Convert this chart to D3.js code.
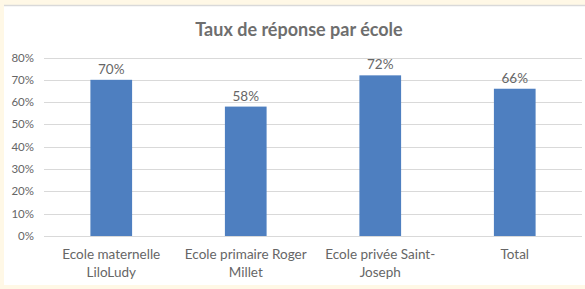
<!DOCTYPE html>
<html><head><meta charset="utf-8">
<script src="https://cdn.jsdelivr.net/npm/d3@7"></script>
<style>
html,body{margin:0;padding:0;background:#fff8e6;}
svg{display:block;}
</style></head>
<body>
<svg id="chart" width="585" height="289"></svg>
<script>
const categories = [["Ecole maternelle","LiloLudy"],["Ecole primaire Roger","Millet"],["Ecole privée Saint-","Joseph"],["Total"]];
const values = [0.70, 0.58, 0.72, 0.66];
const valueLabels = ["70%","58%","72%","66%"];
const yTicks = [0,0.1,0.2,0.3,0.4,0.5,0.6,0.7,0.8];
const title = "Taux de réponse par école";

const svg = d3.select("#chart");
const font = "Lato, 'Open Sans', sans-serif";
const txt = "#666666";
svg.append("rect").attr("x",4).attr("y",5).attr("width",581).attr("height",280).attr("fill","#fff");
svg.append("line").attr("x1",4).attr("x2",585).attr("y1",5.5).attr("y2",5.5).attr("stroke","#d9d9d9").attr("stroke-width",1.5);

const x = d3.scaleBand().domain(d3.range(values.length)).range([44,582]).paddingInner(0.69).paddingOuter(0.345);
const y = d3.scaleLinear().domain([0,0.8]).range([236,57.5]);

svg.append("text").attr("x",299).attr("y",35.5).attr("text-anchor","middle")
  .attr("font-family",font).attr("font-weight","bold").attr("font-size",18).attr("fill","#6e6e6e").text(title);

const g = svg.append("g");
g.selectAll("line.grid").data(yTicks).join("line")
  .attr("x1",44).attr("x2",582).attr("y1",d=>Math.round(y(d))+0.5).attr("y2",d=>Math.round(y(d))+0.5)
  .attr("stroke","#d9d9d9").attr("stroke-width",1);
g.selectAll("text.yt").data(yTicks).join("text")
  .attr("x",34).attr("y",d=>y(d)+4).attr("text-anchor","end")
  .attr("font-family",font).attr("font-size",11.5).attr("fill",txt)
  .text(d=>d3.format(".0%")(d));

g.selectAll("rect.bar").data(values).join("rect")
  .attr("x",(d,i)=>x(i)).attr("width",x.bandwidth())
  .attr("y",d=>y(d)).attr("height",d=>y(0)-y(d)).attr("fill","#4e7fc0");

g.selectAll("text.vl").data(values).join("text")
  .attr("x",(d,i)=>x(i)+x.bandwidth()/2).attr("y",d=>y(d)-6)
  .attr("text-anchor","middle").attr("font-family",font).attr("font-size",13.5).attr("fill",txt)
  .text((d,i)=>valueLabels[i]);

const cl = g.selectAll("text.cl").data(categories).join("text")
  .attr("text-anchor","middle").attr("font-family",font).attr("font-size",13.5).attr("fill",txt);
cl.each(function(lines,i){
  const t = d3.select(this);
  lines.forEach((s,j)=>{
    t.append("tspan").attr("x",x(i)+x.bandwidth()/2).attr("y",259+j*18).text(s);
  });
});
</script>
</body></html>
